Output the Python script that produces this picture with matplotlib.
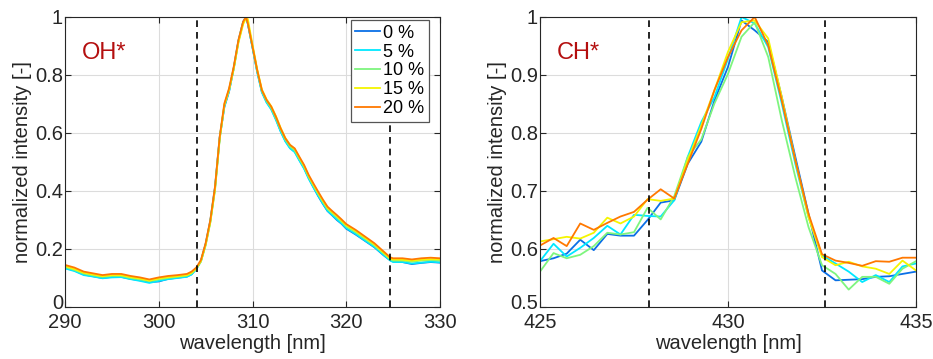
import matplotlib
matplotlib.use("Agg")
import matplotlib.pyplot as plt
from matplotlib.transforms import ScaledTranslation

plt.rcParams['font.family'] = ['Liberation Sans', 'DejaVu Sans']

# legend labels and line colours (jet-like)
labels = ['0 %', '5 %', '10 %', '15 %', '20 %']
colors = ['#0a6fe6', '#00e8ff', '#7ef57e', '#f5f500', '#ff7800']

# OH* spectra
oh_wl = [290, 291, 292, 293, 294, 295, 296, 297, 298, 299, 300, 301, 302, 303,
         303.5, 304, 304.5, 305, 305.5, 306, 306.5, 307, 307.5, 308, 308.5, 309,
         309.3, 309.5, 310, 310.5, 311, 311.5, 312, 312.5, 313, 313.5, 314, 314.5,
         315, 315.5, 316, 316.5, 317, 317.5, 318, 318.5, 319, 319.5, 320,
         321, 322, 323, 324, 324.7, 325, 326, 327, 328, 329, 330]
oh_0 = [0.135, 0.126, 0.112, 0.106, 0.100, 0.104, 0.104, 0.097, 0.092, 0.086, 0.088, 0.097, 0.101, 0.105,
        0.113, 0.131, 0.159, 0.217, 0.297, 0.412, 0.585, 0.690, 0.743, 0.825, 0.918, 0.983,
        1.000, 0.977, 0.895, 0.812, 0.742, 0.707, 0.683, 0.648, 0.607, 0.573, 0.549, 0.536,
        0.507, 0.479, 0.444, 0.413, 0.383, 0.356, 0.331, 0.316, 0.300, 0.287, 0.270,
        0.250, 0.228, 0.206, 0.178, 0.161, 0.157, 0.155, 0.148, 0.152, 0.155, 0.153]
oh_5 = [0.133, 0.124, 0.110, 0.105, 0.099, 0.102, 0.103, 0.096, 0.090, 0.083, 0.090, 0.096, 0.100, 0.104,
        0.112, 0.130, 0.158, 0.216, 0.296, 0.410, 0.583, 0.693, 0.745, 0.822, 0.917, 0.982,
        1.000, 0.978, 0.894, 0.810, 0.740, 0.705, 0.681, 0.645, 0.605, 0.571, 0.547, 0.534,
        0.505, 0.477, 0.442, 0.412, 0.384, 0.357, 0.332, 0.317, 0.302, 0.288, 0.272,
        0.252, 0.229, 0.207, 0.179, 0.160, 0.155, 0.155, 0.150, 0.153, 0.156, 0.154]
oh_10 = [0.138, 0.128, 0.115, 0.109, 0.104, 0.107, 0.107, 0.100, 0.095, 0.089, 0.095, 0.100, 0.104, 0.108,
         0.116, 0.131, 0.157, 0.213, 0.292, 0.405, 0.580, 0.695, 0.748, 0.823, 0.915, 0.980,
         0.998, 0.980, 0.900, 0.815, 0.745, 0.710, 0.686, 0.651, 0.611, 0.577, 0.553, 0.540,
         0.511, 0.483, 0.448, 0.418, 0.390, 0.363, 0.338, 0.323, 0.309, 0.294, 0.278,
         0.258, 0.235, 0.212, 0.184, 0.164, 0.160, 0.160, 0.156, 0.160, 0.162, 0.160]
oh_15 = [0.141, 0.131, 0.118, 0.112, 0.106, 0.110, 0.110, 0.103, 0.098, 0.091, 0.098, 0.103, 0.106, 0.110,
         0.118, 0.133, 0.158, 0.214, 0.292, 0.405, 0.580, 0.698, 0.750, 0.822, 0.912, 0.975,
         0.995, 0.993, 0.905, 0.820, 0.750, 0.716, 0.692, 0.658, 0.618, 0.583, 0.559, 0.545,
         0.515, 0.487, 0.451, 0.422, 0.394, 0.367, 0.342, 0.327, 0.313, 0.298, 0.282,
         0.262, 0.239, 0.216, 0.187, 0.167, 0.164, 0.163, 0.160, 0.163, 0.165, 0.164]
oh_20 = [0.145, 0.136, 0.122, 0.116, 0.110, 0.114, 0.114, 0.107, 0.102, 0.095, 0.102, 0.107, 0.110, 0.114,
         0.122, 0.136, 0.162, 0.220, 0.300, 0.415, 0.587, 0.702, 0.754, 0.829, 0.921, 0.984,
         1.000, 0.978, 0.898, 0.817, 0.748, 0.714, 0.691, 0.656, 0.616, 0.582, 0.559, 0.547,
         0.518, 0.490, 0.455, 0.426, 0.398, 0.371, 0.346, 0.331, 0.317, 0.302, 0.286,
         0.266, 0.243, 0.220, 0.191, 0.171, 0.168, 0.168, 0.164, 0.168, 0.170, 0.168]
oh_bounds = [304.1, 324.7]

# CH* spectra
ch_wl = [425.00, 425.36, 425.71, 426.07, 426.43, 426.79, 427.14, 427.50, 427.86, 428.21,
         428.57, 428.93, 429.29, 429.64, 430.00, 430.36, 430.71, 431.07, 431.43, 431.79,
         432.14, 432.50, 432.86, 433.21, 433.57, 433.93, 434.29, 434.64, 435.00]
ch_0 = [0.579, 0.584, 0.592, 0.616, 0.598, 0.626, 0.623, 0.623, 0.650, 0.680,
        0.684, 0.747, 0.785, 0.856, 0.914, 0.994, 0.977, 0.957, 0.862, 0.759,
        0.661, 0.563, 0.546, 0.547, 0.548, 0.552, 0.553, 0.557, 0.561]
ch_5 = [0.579, 0.609, 0.587, 0.602, 0.619, 0.640, 0.625, 0.659, 0.657, 0.656,
        0.684, 0.759, 0.819, 0.862, 0.928, 1.000, 0.989, 0.948, 0.851, 0.747,
        0.655, 0.589, 0.575, 0.561, 0.543, 0.555, 0.543, 0.570, 0.575]
ch_10 = [0.561, 0.593, 0.584, 0.590, 0.605, 0.628, 0.625, 0.629, 0.671, 0.651,
         0.691, 0.759, 0.789, 0.851, 0.902, 0.966, 0.991, 0.931, 0.822, 0.724,
         0.638, 0.572, 0.557, 0.530, 0.552, 0.552, 0.540, 0.566, 0.579]
ch_15 = [0.613, 0.617, 0.621, 0.618, 0.628, 0.654, 0.644, 0.656, 0.686, 0.683,
         0.687, 0.753, 0.813, 0.874, 0.940, 0.991, 0.994, 0.963, 0.862, 0.753,
         0.655, 0.586, 0.572, 0.578, 0.570, 0.566, 0.557, 0.580, 0.563]
ch_20 = [0.606, 0.619, 0.605, 0.644, 0.633, 0.645, 0.656, 0.664, 0.685, 0.703,
         0.687, 0.747, 0.807, 0.874, 0.931, 0.977, 1.000, 0.951, 0.856, 0.753,
         0.661, 0.591, 0.580, 0.576, 0.571, 0.579, 0.578, 0.585, 0.585]
ch_bounds = [427.9, 432.57]

fig = plt.figure(figsize=(9.33, 3.59), dpi=100)
ax1 = fig.add_axes([65 / 933, 52 / 359, 375 / 933, 290 / 359])
ax2 = fig.add_axes([540 / 933, 52 / 359, 376 / 933, 290 / 359])


def style(ax):
    ax.grid(True, color='#dcdcdc', linewidth=0.8)
    ax.set_axisbelow(True)
    ax.tick_params(direction='in', top=True, right=True, labelsize=14.5,
                   length=4, width=0.8, color='#262626', labelcolor='#262626')
    ax.tick_params(axis='x', pad=4.5)
    ax.tick_params(axis='y', pad=1.5)
    for s in ax.spines.values():
        s.set_color('#262626')
        s.set_linewidth(0.8)
    ax.set_xlabel('wavelength [nm]', fontsize=14.5, color='#262626', labelpad=1.5)
    ax.set_ylabel('normalized intensity [-]', fontsize=14.5, color='#262626', labelpad=2)


# OH* panel
oh_series = [oh_0, oh_5, oh_10, oh_15, oh_20]
for vals, c, lab in zip(oh_series, colors, labels):
    ax1.plot(oh_wl, vals, color=c, linewidth=1.3, label=lab)
for b in oh_bounds:
    ax1.axvline(b, color='black', linestyle=(0, (4, 3)), linewidth=1.2)
ax1.set_xlim(290, 330)
ax1.set_ylim(0, 1)
ax1.set_xticks([290, 300, 310, 320, 330])
ax1.set_yticks([0, 0.2, 0.4, 0.6, 0.8, 1])
ax1.set_yticklabels(['0', '0.2', '0.4', '0.6', '0.8', '1'])
style(ax1)
ax1.text(0.045, 0.855, 'OH*', transform=ax1.transAxes, color='#b40f0f', fontsize=17)
leg = ax1.legend(loc='upper right', bbox_to_anchor=(0.975, 0.995), fontsize=13,
                 handlelength=1.4, handletextpad=0.15, labelspacing=0.1,
                 borderpad=0.25, borderaxespad=0.1, fancybox=False, framealpha=1)
leg.get_frame().set_edgecolor('#555555')
leg.get_frame().set_linewidth(0.9)

# CH* panel
ch_series = [ch_0, ch_5, ch_10, ch_15, ch_20]
for vals, c, lab in zip(ch_series, colors, labels):
    ax2.plot(ch_wl, vals, color=c, linewidth=1.3, label=lab)
for b in ch_bounds:
    ax2.axvline(b, color='black', linestyle=(0, (4, 3)), linewidth=1.2)
ax2.set_xlim(425, 435)
ax2.set_ylim(0.5, 1)
ax2.set_xticks([425, 430, 435])
ax2.set_yticks([0.5, 0.6, 0.7, 0.8, 0.9, 1])
ax2.set_yticklabels(['0.5', '0.6', '0.7', '0.8', '0.9', '1'])
style(ax2)
ax2.text(0.045, 0.855, 'CH*', transform=ax2.transAxes, color='#b40f0f', fontsize=17)

# lift the lowest y tick label a little so it clears the x tick labels
for ax in (ax1, ax2):
    lab0 = ax.yaxis.get_major_ticks()[0].label1
    lab0.set_transform(lab0.get_transform() + ScaledTranslation(0, 4 / 72, fig.dpi_scale_trans))

fig.savefig('out.png', dpi=100)
